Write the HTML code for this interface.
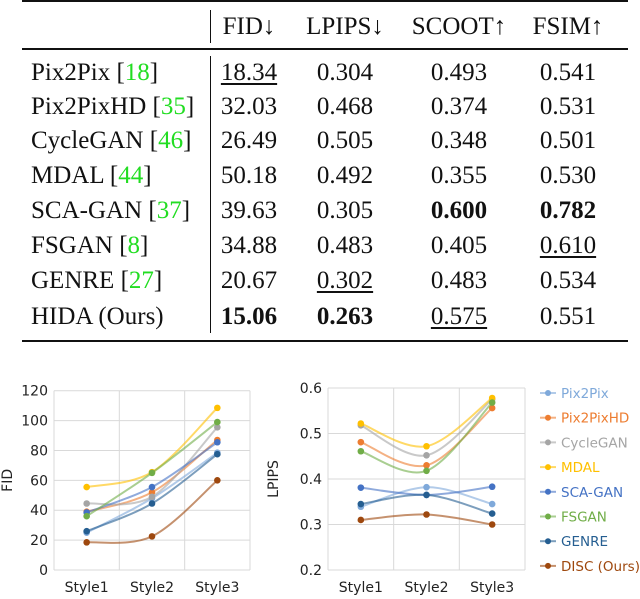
<!DOCTYPE html>
<html><head><meta charset="utf-8"><style>
body{margin:0;background:#fff;width:640px;height:599px;overflow:hidden;position:relative}
#tbl{position:absolute;left:0;top:0;width:640px;height:350px;font-family:"Liberation Serif",serif;font-size:25px;color:#111}
.c{position:absolute;transform:translate(-50%,-50%);white-space:nowrap}
.n{position:absolute;transform:translateY(-50%);white-space:nowrap;left:31px}
.g{color:#22dd22}.u{text-decoration:underline;text-underline-offset:3px}.b{font-weight:bold}
.rule{position:absolute;background:#111}
svg text{font-family:"DejaVu Sans","Liberation Sans",sans-serif}
</style></head><body>
<div id="tbl">
<div class="rule" style="left:22px;top:0;width:606px;height:2px"></div>
<div class="rule" style="left:22px;top:48px;width:606px;height:1.5px"></div>
<div class="rule" style="left:22px;top:340px;width:606px;height:2px"></div>
<div class="rule" style="left:210px;top:10px;width:1px;height:33px"></div>
<div class="rule" style="left:210px;top:56px;width:1px;height:277px"></div>
</div>
<svg id="charts" width="640" height="599" style="position:absolute;left:0;top:0"></svg>
<script>
// table
const rowNames=["Pix2Pix","Pix2PixHD","CycleGAN","MDAL","SCA-GAN","FSGAN","GENRE","HIDA (Ours)"];
const rowRefs=["18","35","46","44","37","8","27",""];
const tableVals=[["18.34u","0.304","0.493","0.541"],["32.03","0.468","0.374","0.531"],["26.49","0.505","0.348","0.501"],["50.18","0.492","0.355","0.530"],["39.63","0.305","0.600b","0.782b"],["34.88","0.483","0.405","0.610u"],["20.67","0.302u","0.483","0.534"],["15.06b","0.263b","0.575u","0.551"]];
const headers=["FID↓","LPIPS↓","SCOOT↑","FSIM↑"];
const colX=[249,345,459,568],rowY=[73,107,141,176,211,246,281,317];
const tbl=document.getElementById('tbl');
headers.forEach((h,i)=>{const d=document.createElement('div');d.className='c';d.style.left=colX[i]+'px';d.style.top='27px';d.textContent=h;

tbl.appendChild(d);});
rowNames.forEach((n,r)=>{const d=document.createElement('div');d.className='n';d.style.top=rowY[r]+'px';
d.innerHTML=n+(rowRefs[r]?' [<span class="g">'+rowRefs[r]+'</span>]':'');

tbl.appendChild(d);
tableVals[r].forEach((v,c)=>{const e=document.createElement('div');let cls='c';let t=v;
if(v.endsWith('u')){cls+=' u';t=v.slice(0,-1);}if(v.endsWith('b')){cls+=' b';t=v.slice(0,-1);}
e.className=cls;e.style.left=colX[c]+'px';e.style.top=rowY[r]+'px';e.textContent=t;

tbl.appendChild(e);});});

// charts
const categories=["Style1","Style2","Style3"];
const seriesNames=["Pix2Pix","Pix2PixHD","CycleGAN","MDAL","SCA-GAN","FSGAN","GENRE","DISC (Ours)"];
const colors=["#7fa9da","#ed7d31","#a5a5a5","#ffc000","#4472c4","#70ad47","#255e91","#9e480e"];
const fidPix2Pix=[25,48,78.5],fidPix2PixHD=[39,52,87],fidCycleGAN=[44.5,49,95.5],fidMDAL=[55.5,65.5,108.5],fidSCAGAN=[38.5,55.5,85.5],fidFSGAN=[36,65,99],fidGENRE=[26,44.5,77.5],fidDISC=[18.5,22.5,60];
const lpPix2Pix=[0.339,0.382,0.345],lpPix2PixHD=[0.481,0.430,0.556],lpCycleGAN=[0.518,0.452,0.575],lpMDAL=[0.522,0.472,0.578],lpSCAGAN=[0.381,0.365,0.383],lpFSGAN=[0.461,0.418,0.568],lpGENRE=[0.345,0.365,0.324],lpDISC=[0.310,0.322,0.300];
const fidTicks=[0,20,40,60,80,100,120];
const lpTicks=["0.2","0.3","0.4","0.5","0.6"];
const fidSeries=[fidPix2Pix,fidPix2PixHD,fidCycleGAN,fidMDAL,fidSCAGAN,fidFSGAN,fidGENRE,fidDISC];
const lpSeries=[lpPix2Pix,lpPix2PixHD,lpCycleGAN,lpMDAL,lpSCAGAN,lpFSGAN,lpGENRE,lpDISC];
const svg=document.getElementById('charts');const NS='http://www.w3.org/2000/svg';
function mk(tag,attrs,parent){const e=document.createElementNS(NS,tag);for(const k in attrs)e.setAttribute(k,attrs[k]);(parent||svg).appendChild(e);return e;}
function smooth(p){let d='M'+p[0][0]+','+p[0][1];for(let i=0;i<p.length-1;i++){const p0=p[Math.max(0,i-1)],p1=p[i],p2=p[i+1],p3=p[Math.min(p.length-1,i+2)];const t=1/6;
d+=' C'+(p1[0]+(p2[0]-p0[0])*t)+','+(p1[1]+(p2[1]-p0[1])*t)+' '+(p2[0]-(p3[0]-p1[0])*t)+','+(p2[1]-(p3[1]-p1[1])*t)+' '+p2[0]+','+p2[1];}return d;}
function chart(name,x0,x1,yTop,yBot,vmin,vmax,ticks,series,title,titleX){
const g=mk('g',{});
const yS=v=>yBot-(v-vmin)/(vmax-vmin)*(yBot-yTop);
const step=(x1-x0)/3;const xS=i=>x0+step*(i+0.5);
ticks.forEach(t=>{const y=yS(+t);const l=mk('line',{x1:x0,x2:x1,y1:y,y2:y,stroke:'#d9d9d9','stroke-width':1},g);

const tx=mk('text',{x:x0-6,y:y+5,'text-anchor':'end','font-size':14,fill:'#222'},g);tx.textContent=t;
});
for(let i=0;i<=3;i++){const x=x0+step*i;const l=mk('line',{x1:x,x2:x,y1:yTop,y2:yBot,stroke:'#d9d9d9','stroke-width':1},g);
}
categories.forEach((c,i)=>{const tx=mk('text',{x:xS(i),y:yBot+22,'text-anchor':'middle','font-size':14,fill:'#222'},g);tx.textContent=c;
});
const at=mk('text',{x:titleX,y:(yTop+yBot)/2,'text-anchor':'middle','font-size':14,fill:'#222',transform:'rotate(-90 '+titleX+' '+((yTop+yBot)/2)+')'},g);at.textContent=title;

series.forEach((s,k)=>{const pts=s.map((v,i)=>[xS(i),yS(v)]);
const p=mk('path',{d:smooth(pts),fill:'none',stroke:colors[k],'stroke-width':2,'stroke-opacity':0.6},g);

pts.forEach(q=>{const c=mk('circle',{cx:q[0],cy:q[1],r:3.3,fill:colors[k]},g);
});});}
chart('fid-chart',54,250,390.7,570,0,120,fidTicks,fidSeries,'FID',12);
chart('lpips-chart',328,525,388,570,0.2,0.6,lpTicks,lpSeries,'LPIPS',278);
const lg=mk('g',{});
seriesNames.forEach((n,k)=>{const y=393+k*24.7;const e=mk('g',{},lg);

mk('line',{x1:540,x2:556,y1:y,y2:y,stroke:colors[k],'stroke-width':2,'stroke-opacity':0.6},e);
mk('circle',{cx:548,cy:y,r:3,fill:colors[k]},e);
const t=mk('text',{x:561,y:y+5,'font-size':13.5,fill:colors[k]},e);t.textContent=n;});
</script>
</body></html>
